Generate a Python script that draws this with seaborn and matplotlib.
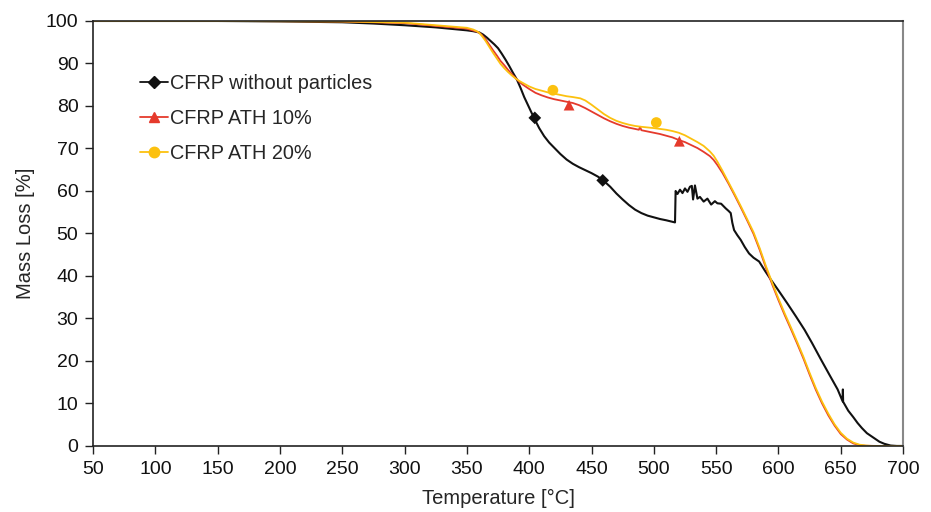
import numpy as np
import pandas as pd
import matplotlib
matplotlib.use("Agg")
import matplotlib.pyplot as plt
from matplotlib.lines import Line2D
import seaborn as sns

# thermogravimetric curves
temp_plain = [50, 100, 150, 200, 250, 275, 300, 325, 350, 355, 360, 363, 366, 369, 372, 375, 378,
              381, 384, 387, 390, 393, 396, 400, 404, 408, 412, 416, 420, 425, 430, 435, 440, 445,
              450, 455, 459, 465, 470, 475, 480, 485, 490, 495, 500, 505, 510, 517,
              517.5, 519, 521, 523, 525, 527, 529, 530.5, 531.5, 533, 535, 537, 540, 543, 546,
              549, 551, 554, 557.7, 560, 561.7, 563, 564.4, 567, 569.7, 573, 576.4, 580, 584.5,
              589, 594, 600, 607, 614, 621, 627, 634, 641, 647.5, 651.5, 651.7, 651.9, 656, 660,
              663.5, 667, 671, 677, 681, 685, 690, 695, 700]
mass_plain = [100, 100, 100, 99.9, 99.7, 99.4, 99.0, 98.5, 97.8, 97.6, 97.3, 96.8, 96.1, 95.3,
              94.5, 93.6, 92.3, 90.9, 89.4, 87.8, 86.3, 84.3, 82.1, 79.6, 77.1, 74.8, 72.9, 71.4,
              70.2, 68.7, 67.4, 66.4, 65.6, 64.9, 64.2, 63.4, 62.6, 61.0, 59.4, 58.0, 56.7, 55.6,
              54.8, 54.2, 53.8, 53.4, 53.1, 52.6,
              60.0, 59.3, 60.3, 59.5, 60.6, 59.8, 61.0, 61.2, 58.0, 61.3, 58.2, 58.6, 57.5, 58.2,
              56.8, 57.6, 57.1, 57.0, 55.9, 55.3, 54.8, 52.5, 50.8, 49.6, 48.5, 46.8, 45.3, 44.3,
              43.4, 41.3, 39.1, 36.6, 33.6, 30.5, 27.3, 24.2, 20.4, 16.7, 13.3, 10.5, 13.3, 10.4,
              8.3, 6.8, 5.4, 4.2, 3.0, 1.8, 1.0, 0.5, 0.1, 0, 0]

temp_ath10 = [50, 150, 250, 300, 350, 358, 360, 362, 365, 368, 371, 374, 377, 380, 383, 386, 389,
              392, 395, 400, 405, 410, 415, 420, 425, 430, 435, 440, 445, 450, 455, 460, 465, 470,
              475, 480, 485, 488, 489, 490, 495, 500, 505, 510, 515, 520, 525, 530, 535, 540, 545,
              548, 551, 555, 560, 565, 570, 575, 580, 585, 590, 595, 600, 605, 610, 615, 620, 625,
              630, 635, 640, 645, 650, 655, 660, 665, 670, 680, 700]
mass_ath10 = [100, 100, 99.9, 99.5, 98.2, 97.5, 97.2, 96.7, 95.7, 94.4, 93.1, 91.9, 90.6, 89.6,
              88.5, 87.5, 86.6, 85.7, 85.0, 84.0, 83.1, 82.5, 82.0, 81.6, 81.3, 81.0, 80.7, 80.2,
              79.5, 78.7, 77.9, 77.1, 76.4, 75.8, 75.3, 74.9, 74.6, 74.4, 75.1, 74.3, 74.0, 73.7,
              73.4, 73.0, 72.6, 72.0, 71.5, 70.8, 70.1, 69.2, 68.2, 67.3, 66.1, 64.3, 61.7, 58.9,
              56.0, 53.0, 49.9, 46.1, 41.9, 38.0, 34.3, 30.8, 27.5, 24.1, 20.6, 16.8, 13.2, 10.0,
              7.2, 4.8, 2.8, 1.5, 0.6, 0.2, 0.05, 0, 0]

temp_ath20 = [50, 150, 250, 300, 350, 355, 358, 360, 362, 365, 368, 371, 374, 377, 380, 383, 386,
              389, 392, 395, 400, 405, 410, 415, 420, 425, 430, 435, 441, 445, 450, 455, 460, 465,
              470, 475, 480, 485, 490, 495, 500, 505, 510, 515, 520, 525, 530, 535, 540, 545, 548,
              551, 555, 560, 565, 570, 575, 580, 585, 590, 595, 600, 605, 610, 615, 620, 625, 630,
              635, 640, 645, 650, 655, 660, 665, 670, 675, 700]
mass_ath20 = [100, 100, 99.9, 99.6, 98.4, 98.0, 97.6, 97.2, 96.5, 95.3, 93.9, 92.5, 91.2, 89.9,
              88.9, 88.0, 87.2, 86.5, 85.9, 85.4, 84.6, 84.0, 83.6, 83.2, 82.9, 82.6, 82.3, 82.1,
              81.8, 81.3, 80.3, 79.2, 78.1, 77.2, 76.5, 76.0, 75.6, 75.3, 75.1, 74.95, 74.8, 74.6,
              74.4, 74.1, 73.7, 73.1, 72.3, 71.5, 70.6, 69.3, 68.3, 66.9, 64.8, 62.0, 59.2, 56.3,
              53.3, 50.3, 46.5, 42.3, 38.4, 34.7, 31.2, 27.9, 24.5, 21.0, 17.2, 13.6, 10.4, 7.6,
              5.1, 3.1, 1.7, 0.8, 0.3, 0.1, 0, 0]

# symbols drawn on the curves
mark_plain_t = [404.5, 459]
mark_plain_m = [77.2, 62.5]
mark_ath10_t = [432, 520.5]
mark_ath10_m = [80.2, 71.7]
mark_ath20_t = [419, 502]
mark_ath20_m = [83.7, 76.1]

labels = ["CFRP without particles", "CFRP ATH 10%", "CFRP ATH 20%"]
colors = ["#111111", "#e53a2c", "#fcc10f"]
markers = ["D", "^", "o"]

sns.set_theme(style="white")
plt.rcParams["font.family"] = ["Liberation Sans", "DejaVu Sans"]

curves = pd.concat([
    pd.DataFrame({"T": temp_plain, "M": mass_plain, "s": labels[0]}),
    pd.DataFrame({"T": temp_ath10, "M": mass_ath10, "s": labels[1]}),
    pd.DataFrame({"T": temp_ath20, "M": mass_ath20, "s": labels[2]}),
])
marks = pd.concat([
    pd.DataFrame({"T": mark_plain_t, "M": mark_plain_m, "s": labels[0]}),
    pd.DataFrame({"T": mark_ath10_t, "M": mark_ath10_m, "s": labels[1]}),
    pd.DataFrame({"T": mark_ath20_t, "M": mark_ath20_m, "s": labels[2]}),
])

fig, ax = plt.subplots(figsize=(9.31, 5.12), dpi=100)
fig.subplots_adjust(left=0.0999, right=0.970, top=0.959, bottom=0.129)

# black underneath, then red, yellow on top
for lab, col, w in zip(labels, colors, [1.5, 1.3, 1.3]):
    sns.lineplot(data=curves[curves.s == lab], x="T", y="M", color=col, lw=w,
                 sort=False, estimator=None, ax=ax, legend=False)

for lab, col, mk in zip(labels, colors, markers):
    sns.scatterplot(data=marks[marks.s == lab], x="T", y="M", color=col, marker=mk,
                    s=60 if mk != "D" else 42, edgecolor="none", ax=ax, legend=False, zorder=5)

ax.set_xlim(50, 700)
ax.set_ylim(0, 100)
ax.set_xticks(np.arange(50, 701, 50))
ax.set_yticks(np.arange(0, 101, 10))
ax.tick_params(axis="both", bottom=True, left=True, direction="out", length=5.5, width=1,
               colors="#222222", labelsize=14, labelcolor="#111111", pad=5)
ax.set_xlabel("Temperature [°C]", fontsize=14.5, labelpad=8)
ax.set_ylabel("Mass Loss [%]", fontsize=14.5, labelpad=8)

for side in ["left", "bottom", "top"]:
    ax.spines[side].set_color("#222222")
    ax.spines[side].set_linewidth(1.2)
ax.spines["right"].set_color("#888888")
ax.spines["right"].set_linewidth(1.5)

handles = [Line2D([0], [0], color=c, marker=m, lw=1.3, markersize=7.5 if m != "D" else 6.5,
                  markeredgecolor=c) for c, m in zip(colors, markers)]
leg = ax.legend(handles, labels, loc="upper left", bbox_to_anchor=(0.036, 0.917),
                frameon=False, fontsize=14.3, handlelength=1.4, handletextpad=0.1,
                labelspacing=0.8)

fig.savefig("out.png", dpi=100)
